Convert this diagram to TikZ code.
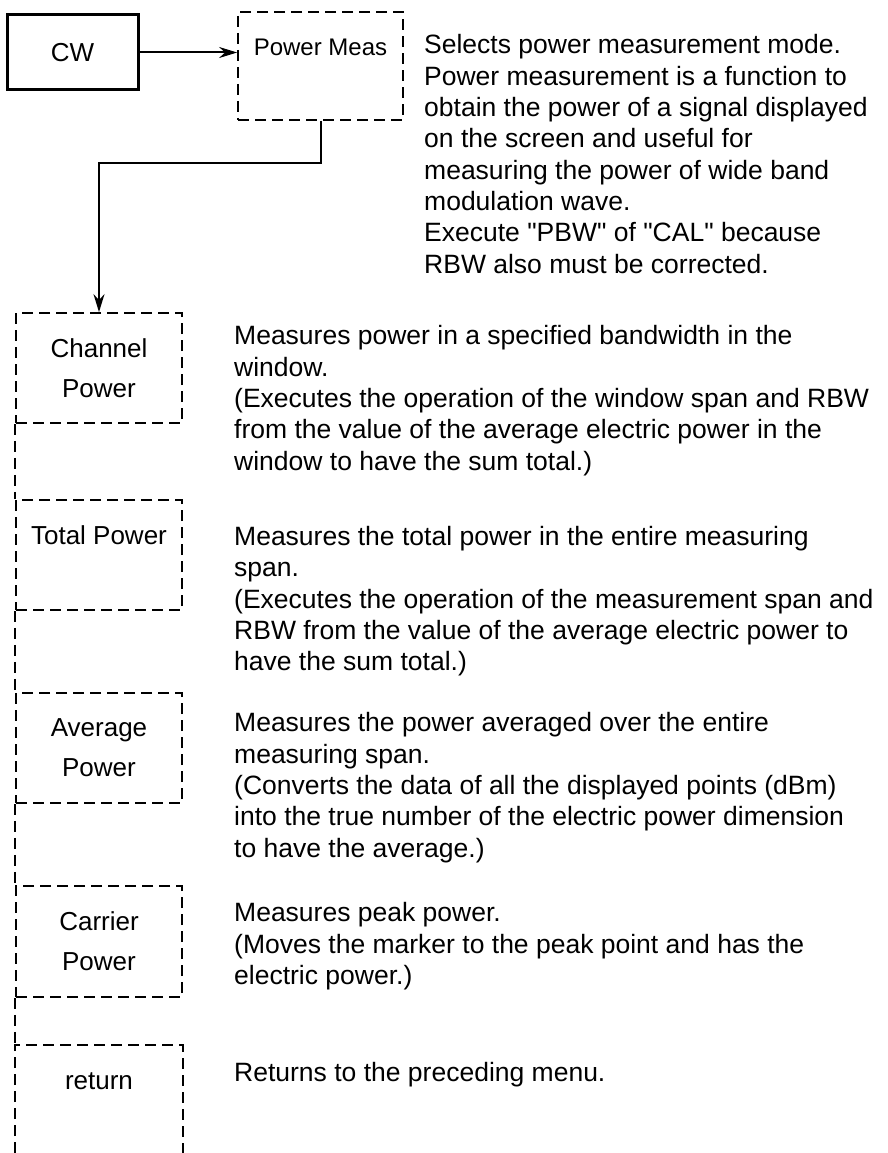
\documentclass[tikz,border=0pt]{standalone}
\usepackage{fontspec}
\setmainfont{Liberation Sans}[Ligatures=TeXOff]
\usetikzlibrary{positioning, arrows.meta}

\begin{document}
\begin{tikzpicture}[x=1pt,y=-1pt,
  keybox/.style={draw,line width=3pt,minimum width=131pt,minimum height=75pt,
    inner sep=0pt,font=\fontsize{26}{40}\selectfont},
  menubox/.style={draw,dash pattern=on 11pt off 6pt,line width=1.8pt,
    minimum width=166pt,minimum height=110pt,inner sep=0pt,align=center,
    font=\fontsize{26}{40}\selectfont},
  menuline/.style={dash pattern=on 11pt off 6pt,line width=1.8pt},
  link/.style={line width=2pt,-{Stealth[length=18pt,width=11pt,inset=6pt]}},
  note/.style={anchor=north west,inner sep=0pt,align=left,
    font=\fontsize{26.5}{31.3}\selectfont}]
  \useasboundingbox (0,0) rectangle (888,1153);
  \coordinate (bot) at (0,1153);
  \node[keybox](cw) at (72.5,52.5){CW};
  \node[menubox,minimum width=165pt,minimum height=108pt,
        font=\fontsize{24}{38}\selectfont](pmeas) at (320.5,66){Power Meas\\\phantom{P}};
  \node[menubox](chan) at (99,368){Channel\\Power};
  \node[menubox](total) at (99,555){Total Power\\\phantom{P}};
  \node[menubox](avg) at (99,748){Average\\Power};
  \node[menubox,minimum height=111pt](carr) at (99,941.5){Carrier\\Power};
  \node[menubox,draw=none](ret) at (99,1101){return\\\phantom{P}};
  \draw[link](cw.east)--(cw.east -| pmeas.west);
  \draw[link](pmeas.south)--++(0,42)-|(chan.north);
  \draw[menuline](chan.south west)--(total.north west);
  \draw[menuline](total.south west)--(avg.north west);
  \draw[menuline](avg.south west)--(carr.north west);
  \draw[menuline](carr.south west)--(ret.north west);
  \draw[menuline](ret.west |- bot)|-(ret.north east)--(ret.east |- bot);
  \node[note](nmeas) at (424,34.5){Selects power measurement mode.\\
    Power measurement is a function to\\
    obtain the power of a signal displayed\\
    on the screen and useful for\\
    measuring the power of wide band\\
    modulation wave.\\
    Execute "PBW" of "CAL" because\\
    RBW also must be corrected.};
  \node[note](nchan) at (234,325.5){Measures power in a specified bandwidth in the\\
    window.\\
    (Executes the operation of the window span and RBW\\
    from the value of the average electric power in the\\
    window to have the sum total.)};
  \node[note](ntotal) at (234,526){Measures the total power in the entire measuring\\
    span.\\
    (Executes the operation of the measurement span and\\
    RBW from the value of the average electric power to\\
    have the sum total.)};
  \node[note](navg) at (234,712.5){Measures the power averaged over the entire\\
    measuring span.\\
    (Converts the data of all the displayed points (dBm)\\
    into the true number of the electric power dimension\\
    to have the average.)};
  \node[note](ncarr) at (234,902.5){Measures peak power.\\
    (Moves the marker to the peak point and has the\\
    electric power.)};
  \node[note](nret) at (234,1062.5){Returns to the preceding menu.};
\end{tikzpicture}
\end{document}
